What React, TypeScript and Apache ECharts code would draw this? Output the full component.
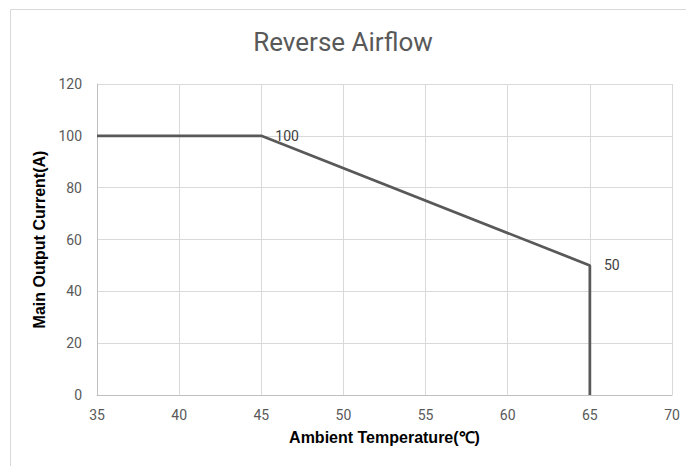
import React, { useEffect, useRef } from "react";
import * as echarts from "echarts";

const temperatures = [35, 45, 65, 65];
const currents = [100, 100, 50, 0];
const labeledIndices = [1, 2];
const xTicks = { min: 35, max: 70, interval: 5 };
const yTicks = { min: 0, max: 120, interval: 20 };

export default function App() {
  const ref = useRef<HTMLDivElement>(null);
  useEffect(() => {
    document.body.style.margin = "0";
    const chart = echarts.init(ref.current!, null, { renderer: "svg" });
    const data = temperatures.map((t, i) => ({
      value: [t, currents[i]],
      label: { show: labeledIndices.includes(i) },
    }));
    chart.setOption({
      animation: false,
      backgroundColor: "#ffffff",
      graphic: [
        {
          type: "rect",
          shape: { x: 10.5, y: 9.5, width: 700, height: 500 },
          style: { fill: "none", stroke: "#d9d9d9", lineWidth: 1 },
          silent: true,
        },
      ],
      title: {
        text: "Reverse Airflow",
        left: "center",
        top: 24,
        textStyle: {
          fontFamily: "Roboto",
          fontWeight: "normal",
          fontSize: 26,
          color: "#595959",
        },
      },
      grid: { left: 97, right: 14, top: 84, bottom: 71 },
      xAxis: {
        type: "value",
        min: xTicks.min,
        max: xTicks.max,
        interval: xTicks.interval,
        name: "Ambient Temperature(℃)",
        nameLocation: "middle",
        nameGap: 34,
        nameTextStyle: {
          fontFamily: "Liberation Sans",
          fontWeight: "bold",
          fontSize: 16,
          color: "#000000",
        },
        axisLine: { show: true, lineStyle: { color: "#bfbfbf", width: 1 } },
        axisTick: { show: false },
        axisLabel: {
          margin: 13,
          fontFamily: "Roboto",
          fontSize: 14,
          color: "#595959",
        },
        splitLine: { show: true, lineStyle: { color: "#d9d9d9", width: 1 } },
      },
      yAxis: {
        type: "value",
        min: yTicks.min,
        max: yTicks.max,
        interval: yTicks.interval,
        name: "Main Output Current(A)",
        nameLocation: "middle",
        nameGap: 48,
        nameTextStyle: {
          fontFamily: "Liberation Sans",
          fontWeight: "bold",
          fontSize: 16,
          color: "#000000",
        },
        axisLine: { show: true, lineStyle: { color: "#bfbfbf", width: 1 } },
        axisTick: { show: false },
        axisLabel: {
          margin: 15,
          fontFamily: "Roboto",
          fontSize: 14,
          color: "#595959",
        },
        splitLine: { show: true, lineStyle: { color: "#d9d9d9", width: 1 } },
      },
      series: [
        {
          type: "line",
          data,
          showSymbol: true,
          symbol: "circle",
          symbolSize: 0.1,
          itemStyle: { color: "#595959" },
          lineStyle: { color: "#595959", width: 2.75 },
          label: {
            position: "right",
            distance: 14,
            fontFamily: "Roboto",
            fontSize: 14,
            color: "#404040",
            formatter: (p: any) => String(p.value[1]),
          },
        },
      ],
    });
    return () => chart.dispose();
  }, []);
  return <div ref={ref} style={{ width: 686, height: 466 }} />;
}
